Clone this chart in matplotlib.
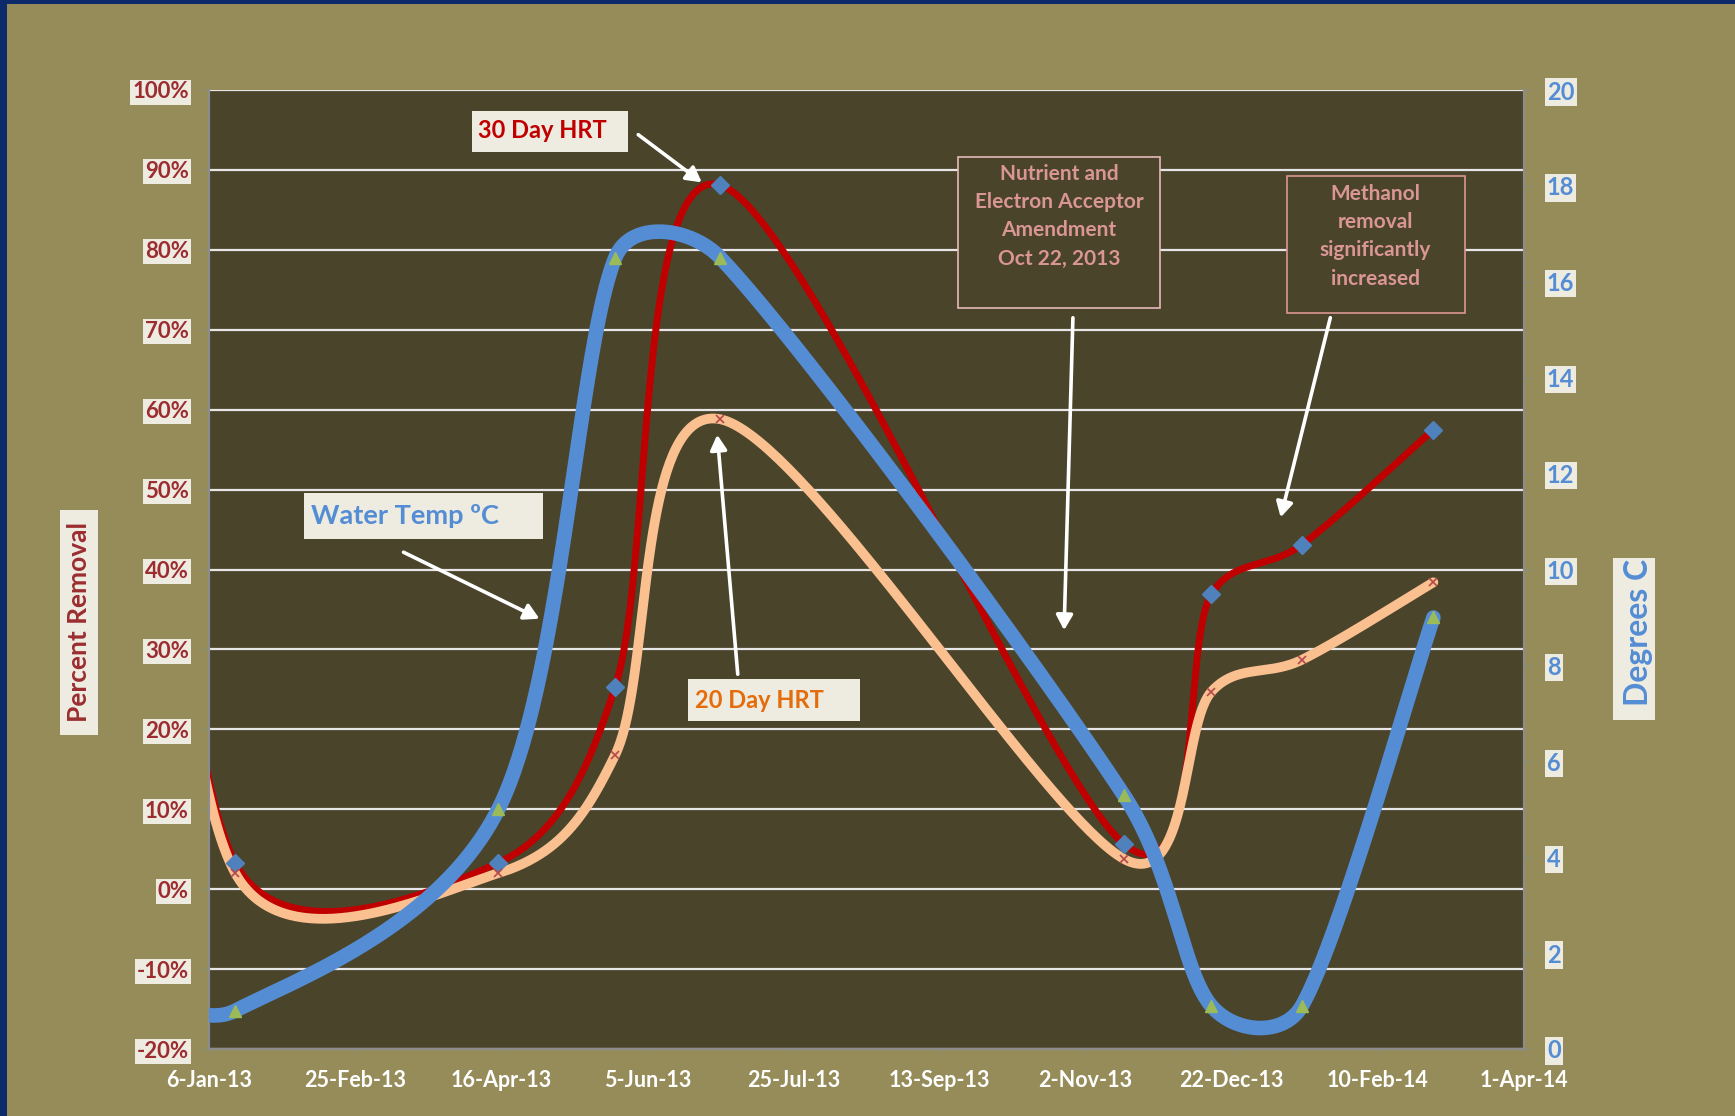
import numpy as np
import matplotlib
matplotlib.use("Agg")
import matplotlib.pyplot as plt
import matplotlib.dates as mdates
from matplotlib.patches import Rectangle, FancyArrowPatch
from datetime import datetime

# ---------------- data ----------------
dates = ["2012-12-15", "2013-01-15", "2013-04-15", "2013-05-25", "2013-06-30",
         "2013-11-15", "2013-12-15", "2014-01-15", "2014-03-01"]
hrt30 = [88.0, 3.3, 3.3, 25.3, 88.1, 5.7, 36.9, 43.1, 57.5]      # % removal, 30 Day HRT
hrt20 = [82.0, 2.0, 2.0, 16.8, 58.8, 3.8, 24.7, 28.7, 38.4]      # % removal, 20 Day HRT
water_temp = [1.2, 0.8, 5.0, 16.5, 16.5, 5.3, 0.9, 0.9, 9.0]     # degrees C

x_tick_dates = ["2013-01-06", "2013-02-25", "2013-04-16", "2013-06-05", "2013-07-25",
                "2013-09-13", "2013-11-02", "2013-12-22", "2014-02-10", "2014-04-01"]
x_tick_labels = ["6-Jan-13", "25-Feb-13", "16-Apr-13", "5-Jun-13", "25-Jul-13",
                 "13-Sep-13", "2-Nov-13", "22-Dec-13", "10-Feb-14", "1-Apr-14"]
left_ticks = [-20, -10, 0, 10, 20, 30, 40, 50, 60, 70, 80, 90, 100]
left_tick_labels = [f"{v}%" for v in left_ticks]
right_ticks = [0, 2, 4, 6, 8, 10, 12, 14, 16, 18, 20]

# ---------------- style ----------------
W, H = 1735, 1116
BG = "#968C59"
PLOT_BG = "#4A442B"
RED = "#C00000"
ORANGE = "#FAC090"
BLUE = "#548DD4"
LBL_RED = "#9B2D30"
BOX = "#EEEBE1"
PINK = "#DA9694"
FONT = "Lato"

plt.rcParams["font.family"] = [FONT, "DejaVu Sans"]

fig = plt.figure(figsize=(W / 100, H / 100), dpi=100, facecolor=BG)


def fx(x):
    return x / W


def fy(y):
    return 1 - y / H


# border strips
fig.add_artist(Rectangle((0, 0), fx(7), 1, transform=fig.transFigure,
                         facecolor="#0D2A6B", edgecolor="none", zorder=0.5))
fig.add_artist(Rectangle((0, fy(4)), 1, 4 / H, transform=fig.transFigure,
                         facecolor="#0D2A6B", edgecolor="none", zorder=0.5))

L, R, T, B = 209, 1524, 90, 1049
ax = fig.add_axes([fx(L), fy(B), fx(R - L), (B - T) / H])
ax.set_facecolor(PLOT_BG)
ax2 = ax.twinx()

xd = mdates.date2num([datetime.strptime(d, "%Y-%m-%d") for d in dates])
xt = mdates.date2num([datetime.strptime(d, "%Y-%m-%d") for d in x_tick_dates])

ax.set_xlim(xt[0], xt[-1])
ax.set_ylim(-20, 100)
ax2.set_ylim(0, 20)


def smooth(axis, xs, ys, n=80, cap=0.4):
    """Bezier smoothing (Catmull-Rom style, tangent length limited by chord)."""
    P = axis.transData.transform(np.column_stack([xs, ys]))
    out = []
    for i in range(len(P) - 1):
        p0 = P[i - 1] if i > 0 else P[i]
        p1, p2 = P[i], P[i + 1]
        p3 = P[i + 2] if i + 2 < len(P) else P[i + 1]
        chord = np.hypot(*(p2 - p1))
        v1 = (p2 - p0) / 6.0
        v2 = (p3 - p1) / 6.0
        for v in (v1, v2):
            ln = np.hypot(*v)
            if ln > cap * chord and ln > 0:
                v *= cap * chord / ln
        c1 = p1 + v1
        c2 = p2 - v2
        t = np.linspace(0, 1, n)[:, None]
        seg = (1 - t) ** 3 * p1 + 3 * (1 - t) ** 2 * t * c1 + 3 * (1 - t) * t ** 2 * c2 + t ** 3 * p2
        out.append(seg if i == 0 else seg[1:])
    pts = axis.transData.inverted().transform(np.vstack(out))
    return pts[:, 0], pts[:, 1]


# grid
for v in left_ticks:
    ax.axhline(v, color="#E6E6E6", lw=1.6, zorder=1)

sx, sy = smooth(ax, xd, hrt30)
ax.plot(sx, sy, color=RED, lw=5, solid_capstyle="round", zorder=3)
sx, sy = smooth(ax, xd, hrt20)
ax.plot(sx, sy, color=ORANGE, lw=7, solid_capstyle="round", zorder=4)
ax.plot(xd, hrt30, ls="none", marker="D", ms=9, color="#4F81BD", zorder=5)
ax.plot(xd, hrt20, ls="none", marker="x", ms=6, mew=1.2, color="#B5484B", zorder=6)

sx, sy = smooth(ax2, xd, water_temp)
ax2.plot(sx, sy, color=BLUE, lw=10.5, solid_capstyle="round", zorder=3)
ax2.plot(xd, water_temp, ls="none", marker="^", ms=9, color="#9BBB59", zorder=4)

# axes / ticks
ax.set_xticks(xt)
ax.set_xticklabels(x_tick_labels)
ax.set_yticks(left_ticks)
ax.set_yticklabels(left_tick_labels)
ax2.set_yticks(right_ticks)
ax2.set_yticklabels([str(v) for v in right_ticks])

ax.tick_params(axis="x", length=3, color="#8C8C7A", pad=12, labelsize=15.5, labelcolor="white")
ax.tick_params(axis="y", length=6.5, color="#8C8C7A", pad=8, labelsize=16, labelcolor=LBL_RED)
ax2.tick_params(axis="y", length=6.5, color="#8C8C7A", pad=10, labelsize=17, labelcolor=BLUE)
for lab in ax.get_xticklabels():
    lab.set_fontweight("bold")
for lab in ax.get_yticklabels():
    lab.set_fontweight("bold")
    lab.set_bbox(dict(facecolor=BOX, edgecolor="none", pad=1.5))
for lab in ax2.get_yticklabels():
    lab.set_fontweight("bold")
    lab.set_bbox(dict(facecolor=BOX, edgecolor="none", pad=1.5))

for a in (ax, ax2):
    for s in ("left", "right", "bottom"):
        a.spines[s].set_color("#8C8C8C")
        a.spines[s].set_linewidth(1.5)
    a.spines["top"].set_visible(False)


# ---------------- labels and annotations ----------------
def box(x0, y0, x1, y1, face, edge="none", lw=1.2):
    fig.add_artist(Rectangle((fx(x0), fy(y1)), fx(x1 - x0), (y1 - y0) / H,
                             transform=fig.transFigure, facecolor=face,
                             edgecolor=edge, lw=lw, zorder=5))


def arrow(x0, y0, x1, y1):
    fig.add_artist(FancyArrowPatch(
        (fx(x0), fy(y0)), (fx(x1), fy(y1)), transform=fig.transFigure,
        arrowstyle="-|>,head_length=9,head_width=5", color="white", lw=2.6,
        mutation_scale=1, zorder=7))


# axis titles
box(60, 510, 98, 735, BOX)
fig.text(fx(79), fy(622), "Percent Removal", rotation=90, ha="center", va="center",
         fontsize=19, fontweight="bold", color=LBL_RED, zorder=6)
box(1613, 558, 1655, 720, BOX)
fig.text(fx(1638), fy(632), "Degrees C", rotation=90, ha="center", va="center",
         fontsize=23, fontweight="bold", color=BLUE, zorder=6)

# series labels
box(472, 111, 628, 152, BOX)
fig.text(fx(478), fy(131), "30 Day HRT", ha="left", va="center",
         fontsize=17, fontweight="bold", color=RED, zorder=6)
box(304, 493, 543, 539, BOX)
fig.text(fx(311), fy(516), "Water Temp \u00baC", ha="left", va="center",
         fontsize=19.5, fontweight="bold", color=BLUE, zorder=6)
box(688, 679, 860, 721, BOX)
fig.text(fx(695), fy(700), "20 Day HRT", ha="left", va="center",
         fontsize=17, fontweight="bold", color="#E46C0A", zorder=6)

# note boxes
box(958, 157, 1160, 308, PLOT_BG, edge="#E6B9B8")
for i, line in enumerate(["Nutrient and", "Electron Acceptor", "Amendment", "Oct 22, 2013"]):
    fig.text(fx(1059), fy(174 + 28.2 * i), line, ha="center", va="center",
             fontsize=15, fontweight="bold", color=PINK, zorder=6)
box(1287, 176, 1465, 313, PLOT_BG, edge="#D99694")
for i, line in enumerate(["Methanol", "removal", "significantly", "increased"]):
    fig.text(fx(1375), fy(194 + 28.2 * i), line, ha="center", va="center",
             fontsize=15, fontweight="bold", color=PINK, zorder=6)

arrow(636, 133, 704, 184)
arrow(401, 551, 542, 620)
arrow(738, 677, 717, 432)
arrow(1073, 315, 1064, 633)
arrow(1331, 315, 1280, 520)

fig.savefig("out.png", dpi=100, facecolor=BG)
